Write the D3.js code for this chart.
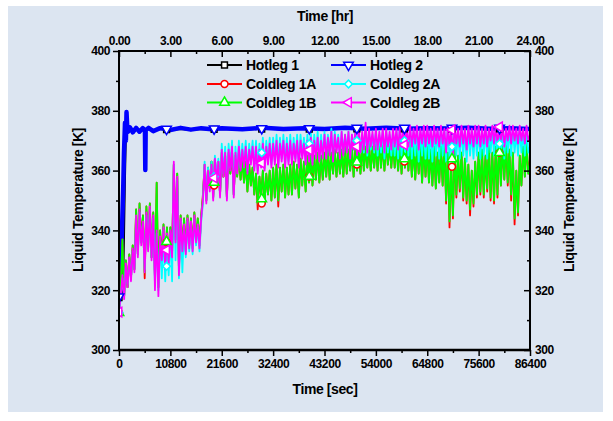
<!DOCTYPE html>
<html><head><meta charset="utf-8">
<script src="https://cdn.jsdelivr.net/npm/d3@7/dist/d3.min.js"></script>
<style>
body{margin:0;background:#ffffff}
text{font-family:Arial,"Liberation Sans",sans-serif;fill:#000}
</style>
</head><body>
<svg id="chart" width="613" height="421"></svg>
<script>
// ---------- DATA ----------
const timeSec = [0,360,720,1080,1440,1800,2160,2520,2880,3240,
3600,3960,4320,4680,5040,5400,5760,6120,6480,6840,
7200,7560,7920,8280,8640,9000,9360,9720,10080,10440,
10800,11160,11520,11880,12240,12600,12960,13320,13680,14040,
14400,14760,15120,15480,15840,16200,16560,16920,17280,17640,
18000,18360,18720,19080,19440,19800,20160,20520,20880,21240,
21600,21960,22320,22680,23040,23400,23760,24120,24480,24840,
25200,25560,25920,26280,26640,27000,27360,27720,28080,28440,
28800,29160,29520,29880,30240,30600,30960,31320,31680,32040,
32400,32760,33120,33480,33840,34200,34560,34920,35280,35640,
36000,36360,36720,37080,37440,37800,38160,38520,38880,39240,
39600,39960,40320,40680,41040,41400,41760,42120,42480,42840,
43200,43560,43920,44280,44640,45000,45360,45720,46080,46440,
46800,47160,47520,47880,48240,48600,48960,49320,49680,50040,
50400,50760,51120,51480,51840,52200,52560,52920,53280,53640,
54000,54360,54720,55080,55440,55800,56160,56520,56880,57240,
57600,57960,58320,58680,59040,59400,59760,60120,60480,60840,
61200,61560,61920,62280,62640,63000,63360,63720,64080,64440,
64800,65160,65520,65880,66240,66600,66960,67320,67680,68040,
68400,68760,69120,69480,69840,70200,70560,70920,71280,71640,
72000,72360,72720,73080,73440,73800,74160,74520,74880,75240,
75600,75960,76320,76680,77040,77400,77760,78120,78480,78840,
79200,79560,79920,80280,80640,81000,81360,81720,82080,82440,
82800,83160,83520,83880,84240,84600,84960,85320,85680,86040,
86400];

const hotTime = [0,300,630,900,1050,1260,1450,1580,1750,1890,2300,2900,3600,4300,5000,5450,5530,5610,6200,7200,8640,10800,12960,15120,17280,19440,21600,25920,30240,34560,38880,43200,47520,51840,56160,60480,64800,69120,73440,77760,82080,86400];
const hotleg1 = [317.5,318,319,326,338,358,372,374,373.5,373.6,373.8,373.4,373.9,373.5,373.8,373.6,373.6,373.6,373.9,373.5,373.9,373.6,373.9,373.6,373.9,373.7,373.9,373.7,374,373.8,374,373.8,374,373.9,374.1,373.9,374.1,374,374.1,373.9,374.1,373.8];
const hotleg2 = [317.8,322,340,355,366,376,370,379.6,374,373,374.5,372.8,374.3,373,374.2,373.5,360.2,373.5,374.3,373.2,374.2,373.6,374.3,373.7,374.2,373.8,374.2,373.8,374.3,373.9,374.2,373.9,374.3,374,374.3,374,374.2,374.1,374.3,374,374.2,373.9];

const coldleg1A = [312.5,320,337,318,330,321,332,324,335,327,
347,332,349,336,345,324,348,334,349,331,
346,324,356,321,340,331,342,328,341,330,
341,332,362,337,359,327,345,334,344,333,
345,335,344,334,346,337,344,335,345,352,
362,350,361,354,363,351,364,356,363,352,
366,358,365,351,366,359,367,352,365,358,
366,357,364,356,363,353,362,355,361,352,
359,347,358,351,360,349,359,352,360,350,
361,351,362,348,361,353,362,351,361,352,
362,352,363,354,362,351,364,355,363,353,
365,356,366,355,365,357,366,356,365,357,
366,358,367,357,366,359,367,358,366,359,
367,358,368,359,367,360,368,358,367,360,
368,359,369,360,368,361,369,360,368,361,
369,360,370,361,369,360,370,362,369,361,
370,361,369,360,370,359,369,361,370,360,
369,358,368,357,369,359,368,356,369,358,
368,356,367,355,368,354,366,356,368,355,
369,349,366,341,362,344,367,351,365,353,
366,350,364,349,362,345,360,348,363,351,
366,352,367,351,365,353,369,350,366,349,
368,351,370,355,369,357,370,355,367,350,
366,342,360,345,365,355,368,358,369,359,
364];
const coldleg2A = [312.5,317,324,318,328,322,330,324,333,327,
343,332,346,336,342,327,345,334,347,331,
344,322,339,320,337,324,340,323,338,325,
339,323,362,330,357,324,343,326,341,331,
343,333,342,332,344,335,341,333,343,349,
363,350,361,354,363,351,365,357,364,352,
369,359,368,351,369,361,370,352,368,360,
370,361,369,362,370,360,369,363,370,361,
370,360,369,362,371,361,370,363,371,362,
371,363,372,362,371,364,372,362,371,363,
372,363,371,364,372,362,372,365,371,363,
372,364,373,363,372,365,373,364,372,365,
373,365,372,366,374,364,373,367,372,365,
373,366,372,367,373,365,372,367,373,366,
373,366,372,366,374,365,373,367,372,366,
373,365,372,366,373,364,373,366,372,365,
373,365,373,364,374,365,373,366,373,365,
374,364,373,365,374,363,373,365,374,364,
374,364,373,363,374,365,373,364,374,365,
373,363,374,364,373,362,374,365,373,364,
374,365,373,363,374,365,373,364,374,365,
374,364,373,365,374,364,373,366,374,365,
374,365,373,366,374,364,373,366,374,365,
374,366,373,365,374,366,373,365,374,366,
368];
const coldleg1B = [312.5,320,337,318,330,321,332,324,335,327,
347,332,349,336,345,326,348,334,349,331,
346,324,356,321,340,331,342,328,341,330,
341,332,362,337,359,327,345,334,344,333,
345,335,344,334,346,337,344,335,345,351,
362,350,361,354,363,351,364,356,363,352,
366,358,365,351,366,359,367,352,365,358,
366,357,364,356,363,353,362,355,361,352,
359,349,358,351,360,349,359,352,360,350,
361,351,362,350,361,353,362,351,361,352,
362,352,363,354,362,351,364,355,363,353,
365,356,366,355,365,357,366,356,365,357,
366,358,367,357,366,359,367,358,366,359,
367,358,368,359,367,360,368,358,367,360,
368,359,369,360,368,361,369,360,368,361,
369,360,370,361,369,360,370,362,369,361,
370,361,369,360,370,359,369,361,370,360,
369,358,368,357,369,359,368,356,369,358,
368,356,367,355,368,354,366,356,368,355,
369,350,366,343,362,345,367,352,365,354,
366,351,364,350,362,347,360,349,363,352,
366,353,367,352,365,354,369,351,366,350,
368,352,370,355,369,357,370,356,367,352,
366,344,360,346,365,355,368,358,369,359,
362];
const coldleg2B = [312.7,318,325,317,329,321,331,323,334,326,
345,331,347,335,343,326,346,333,348,330,
345,320,340,318,338,330,341,327,339,329,
340,331,363,336,358,325,344,333,342,332,
344,334,343,333,345,336,342,334,344,350,
362,349,360,353,362,350,364,356,363,351,
367,358,366,350,367,360,368,351,366,359,
368,360,367,361,368,359,367,362,368,360,
368,359,367,361,369,360,368,362,369,361,
369,362,370,361,369,363,370,361,369,362,
370,362,369,363,370,361,370,364,369,362,
370,363,371,362,370,364,371,363,370,364,
372,364,371,365,373,363,372,366,371,364,
373,365,372,366,373,364,372,367,373,365,
374,366,373,367,376,366,374,368,373,367,
374,367,373,368,374,366,374,368,373,367,
374,368,374,367,375,368,374,369,374,368,
375,368,374,369,375,367,374,369,375,368,
375,369,374,368,375,369,374,368,375,369,
374,366,375,368,374,365,375,369,374,368,
375,369,374,367,375,369,374,368,375,369,
375,368,374,369,375,368,374,370,375,369,
375,369,374,370,375,368,374,370,375,369,
375,370,374,369,375,370,374,369,375,370,
372];

const markerTime = [0,10000,20000,30000,40000,50000,60000,70000,80000];
const hotleg1Marks = [317.5,373.7,373.8,373.9,373.9,374,374,374,374];
const hotleg2Marks = [317.8,373.9,374,374.1,374.1,374.2,374.2,374.2,374.2];
const coldleg1AMarks = [312.5,336,355,349,358,362,363,361.3,366];
const coldleg2AMarks = [312.5,328,358,366,369,370,370,368,369];
const coldleg1BMarks = [312.5,336.2,356,350.5,358,362.8,363.9,363.9,366];
const coldleg2BMarks = [312.7,333.4,357.6,362.5,366.9,368,368.6,373.6,374.6];

const secTicks = [0,10800,21600,32400,43200,54000,64800,75600,86400];
const secMinor = [5400,16200,27000,37800,48600,59400,70200,81000];
const hrTicks = [0,3,6,9,12,15,18,21,24];
const hrMinor = [1.5,4.5,7.5,10.5,13.5,16.5,19.5,22.5];
const tempTicks = [300,320,340,360,380,400];
const tempMinor = [310,330,350,370,390];

// ---------- CHART ----------
const svg = d3.select("#chart");
const L=119, R=530, T=51, B=350;
const x = d3.scaleLinear().domain([0,86400]).range([L,R]);
const xh = d3.scaleLinear().domain([0,24]).range([L,R]);
const y = d3.scaleLinear().domain([300,400]).range([B,T]);

svg.append("rect").attr("x",8).attr("y",6).attr("width",595).attr("height",406).attr("fill","#dce5f1");

const series = [
  {name:"Hotleg 1", t:hotTime, v:hotleg1, mt:markerTime, mv:hotleg1Marks, color:"#000000", sym:"square", w:2},
  {name:"Hotleg 2", t:hotTime, v:hotleg2, mt:markerTime, mv:hotleg2Marks, color:"#0000ff", sym:"tridown", w:4.5},
  {name:"Coldleg 1A", t:timeSec, v:coldleg1A, mt:markerTime, mv:coldleg1AMarks, color:"#ff0000", sym:"circle", w:1.8},
  {name:"Coldleg 2A", t:timeSec, v:coldleg2A, mt:markerTime, mv:coldleg2AMarks, color:"#00ffff", sym:"diamond", w:1.8},
  {name:"Coldleg 1B", t:timeSec, v:coldleg1B, mt:markerTime, mv:coldleg1BMarks, color:"#00ff00", sym:"triangle", w:1.8},
  {name:"Coldleg 2B", t:timeSec, v:coldleg2B, mt:markerTime, mv:coldleg2BMarks, color:"#ff00ff", sym:"trileft", w:1.8}
];
const drawOrder = [0,1,2,4,3,5];

function symPath(kind){
  const map = {square:[d3.symbolSquare,34,0], tridown:[d3.symbolTriangle,40,180], circle:[d3.symbolCircle,38,0],
               diamond:[d3.symbolSquare,30,45], triangle:[d3.symbolTriangle,40,0], trileft:[d3.symbolTriangle,40,-90]};
  const m = map[kind];
  return {d: d3.symbol().type(m[0]).size(m[1])(), rot:m[2]};
}

svg.append("clipPath").attr("id","clip").append("rect").attr("x",L).attr("y",T).attr("width",R-L).attr("height",B-T);
const plot = svg.append("g").attr("clip-path","url(#clip)");

const line = d3.line().x(d=>x(d[0])).y(d=>y(d[1]));
drawOrder.forEach(i=>{
  const s = series[i];
  const pts = s.t.map((t,k)=>[t,s.v[k]]);
  plot.append("path").attr("d",line(pts)).attr("fill","none").attr("stroke",s.color)
    .attr("stroke-width",s.w).attr("stroke-linejoin","round");
});
drawOrder.forEach(i=>{
  const s = series[i];
  const sp = symPath(s.sym);
  s.mt.forEach((t,k)=>{
    plot.append("path").attr("d",sp.d)
      .attr("transform",`translate(${x(t)},${y(s.mv[k])}) rotate(${sp.rot})`)
      .attr("fill","#ffffff").attr("stroke",s.color).attr("stroke-width",1.5);
  });
});

// axes
const fmtHr = d3.format(".2f");
const tickFont = g => g.selectAll("text").attr("font-size",12).attr("font-weight","bold").attr("letter-spacing",-0.4);
const clean = g => { g.select(".domain").remove(); g.selectAll(".tick line").attr("stroke","#000").attr("stroke-width",1.5); };

svg.append("g").attr("transform",`translate(${L},0)`)
  .call(d3.axisLeft(y).tickValues(tempTicks).tickSize(6).tickPadding(3)).call(clean).call(tickFont);
svg.append("g").attr("transform",`translate(${L},0)`)
  .call(d3.axisLeft(y).tickValues(tempMinor).tickSize(3).tickFormat("")).call(clean);
svg.append("g").attr("transform",`translate(${R},0)`)
  .call(d3.axisRight(y).tickValues(tempTicks).tickSizeInner(-6).tickSizeOuter(0).tickPadding(5)).call(clean).call(tickFont);
svg.append("g").attr("transform",`translate(${R},0)`)
  .call(d3.axisRight(y).tickValues(tempMinor).tickSizeInner(-3).tickSizeOuter(0).tickFormat("")).call(clean);
svg.append("g").attr("transform",`translate(0,${B})`)
  .call(d3.axisBottom(x).tickValues(secTicks).tickSize(6).tickPadding(3).tickFormat(d3.format("d"))).call(clean).call(tickFont);
svg.append("g").attr("transform",`translate(0,${B})`)
  .call(d3.axisBottom(x).tickValues(secMinor).tickSize(3).tickFormat("")).call(clean);
svg.append("g").attr("transform",`translate(0,${T})`)
  .call(d3.axisTop(xh).tickValues(hrTicks).tickSizeInner(-6).tickSizeOuter(0).tickPadding(6.5).tickFormat(fmtHr)).call(clean).call(tickFont);
svg.append("g").attr("transform",`translate(0,${T})`)
  .call(d3.axisTop(xh).tickValues(hrMinor).tickSizeInner(-3).tickSizeOuter(0).tickFormat("")).call(clean);

// frame
svg.append("line").attr("x1",L).attr("x2",L).attr("y1",T).attr("y2",B).attr("stroke","#000").attr("stroke-width",2);
svg.append("line").attr("x1",R).attr("x2",R).attr("y1",T).attr("y2",B).attr("stroke","#000").attr("stroke-width",2);
svg.append("line").attr("x1",L-1).attr("x2",R+1).attr("y1",T).attr("y2",T).attr("stroke","#000").attr("stroke-width",2);
svg.append("line").attr("x1",L-1).attr("x2",R+1).attr("y1",B).attr("y2",B).attr("stroke","#000").attr("stroke-width",2.5);

// titles
const title = (t,xx,yy,rot)=>svg.append("text").attr("transform",`translate(${xx},${yy}) rotate(${rot})`)
  .attr("text-anchor","middle").attr("font-size",14).attr("font-weight","bold").attr("letter-spacing",-0.4).text(t);
title("Time [hr]",325,21,0);
title("Time [sec]",325,394,0);
title("Liquid Temperature [K]",83,200,-90);
title("Liquid Temperature [K]",574,200,-90);

// legend
const legX=[207,331], legY=[65,84,102.5];
series.forEach((s,i)=>{
  const col=i%2, row=Math.floor(i/2);
  const g = svg.append("g").attr("transform",`translate(${legX[col]},${legY[row]})`);
  g.append("line").attr("x1",0).attr("x2",35).attr("y1",0).attr("y2",0).attr("stroke",s.color).attr("stroke-width",2);
  const sp = symPath(s.sym);
  g.append("path").attr("d",sp.d).attr("transform",`translate(17.5,0) rotate(${sp.rot})`)
    .attr("fill","#fff").attr("stroke",s.color).attr("stroke-width",1.5);
  g.append("text").attr("x",39).attr("y",5).attr("font-size",14).attr("font-weight","bold").attr("letter-spacing",-0.3).text(s.name);
});
</script>
</body></html>
